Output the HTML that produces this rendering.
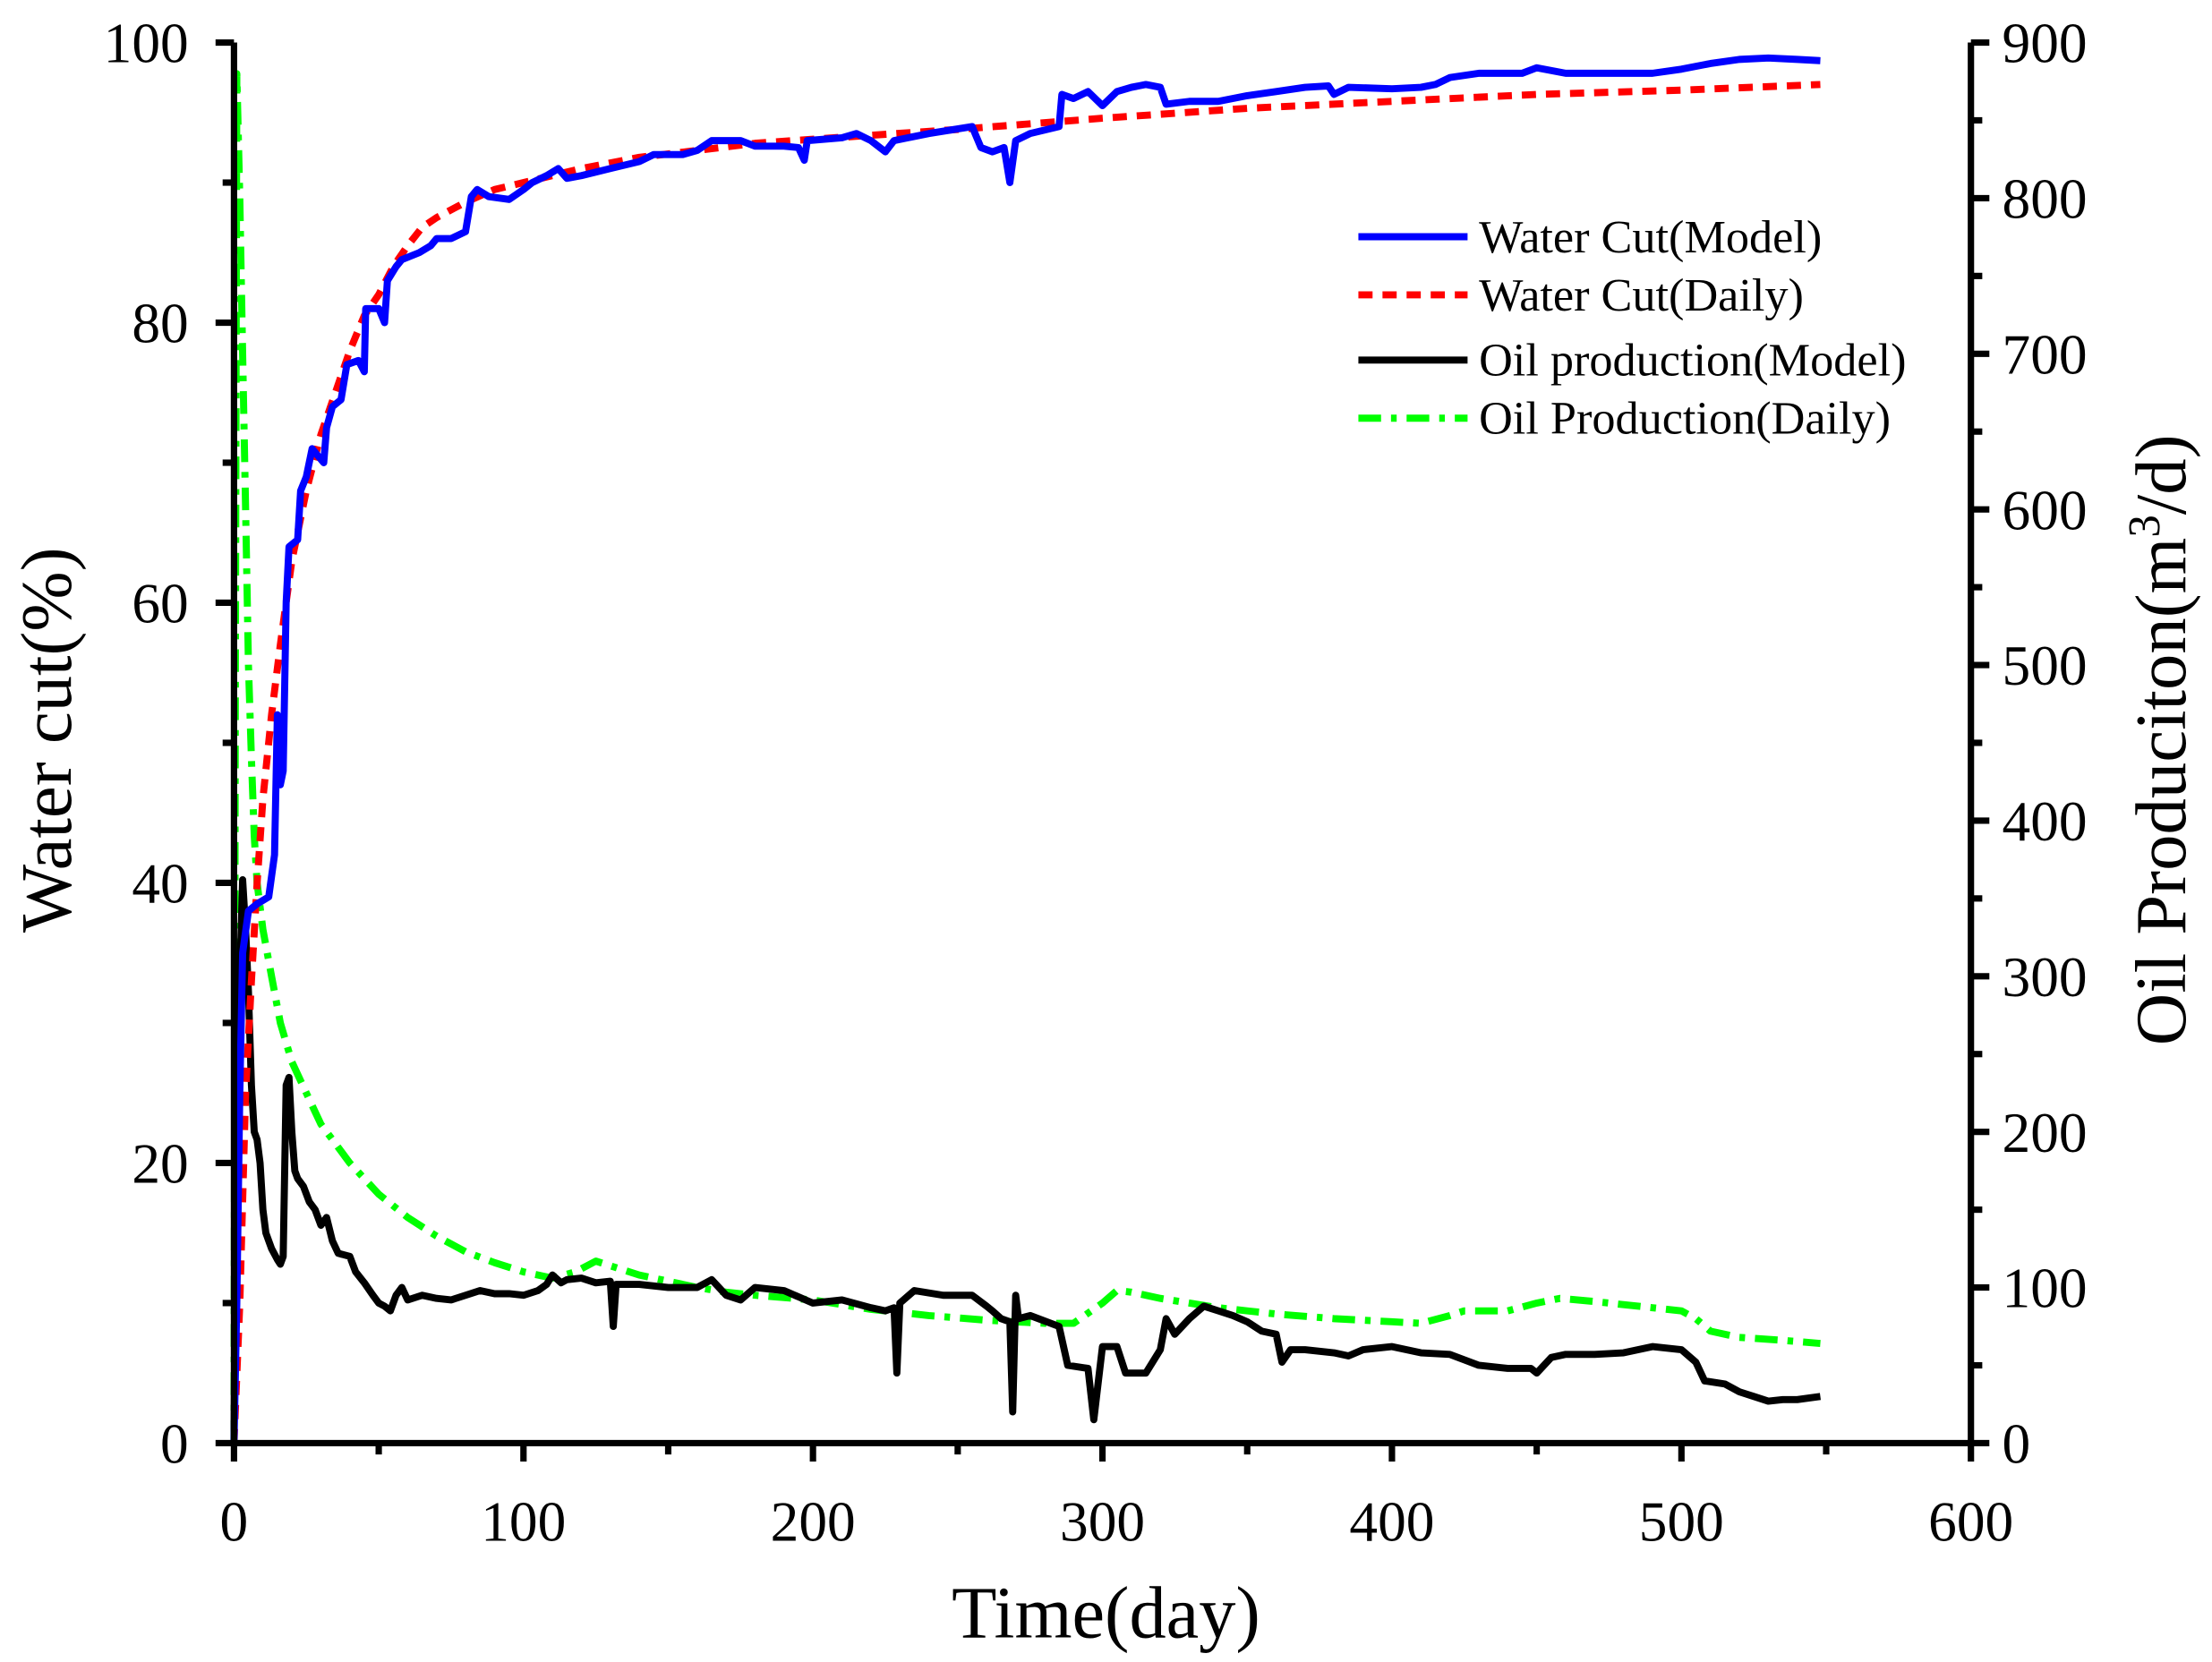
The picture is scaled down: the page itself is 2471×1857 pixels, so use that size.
<!DOCTYPE html>
<html><head><meta charset="utf-8"><style>
html,body{margin:0;padding:0;background:#fff}
svg{display:block}
text{font-family:"Liberation Serif",serif;fill:#000}
</style></head><body>
<svg id="s" width="2471" height="1857" viewBox="0 0 1560 1172.4" xmlns="http://www.w3.org/2000/svg">
<rect width="1560" height="1173" fill="#fff"/>
<g id="plot"></g>
<g id="axes" stroke="#000" stroke-width="4.5" fill="none"></g>
<g id="lab" font-size="40"></g>
<text x="50" y="522" font-size="51" text-anchor="middle" transform="rotate(-90 50 522)">Water cut(%)</text>
<text x="780" y="1155" font-size="52" text-anchor="middle">Time(day)</text>
<text x="1541" y="522" font-size="51" text-anchor="middle" transform="rotate(-90 1541 522)">Oil Produciton(m<tspan font-size="32" dy="-18">3</tspan><tspan dy="18">/d)</tspan></text>
<g font-size="33">
<line x1="958" y1="167" x2="1035" y2="167" stroke="#0000ff" stroke-width="5"/>
<text x="1043" y="178">Water Cut(Model)</text>
<line x1="958" y1="208" x2="1035" y2="208" stroke="#ff0000" stroke-width="5" stroke-dasharray="10,7"/>
<text x="1043" y="219">Water Cut(Daily)</text>
<line x1="958" y1="254" x2="1035" y2="254" stroke="#000" stroke-width="5"/>
<text x="1043" y="265">Oil production(Model)</text>
<line x1="958" y1="295" x2="1035" y2="295" stroke="#00ff00" stroke-width="5" stroke-dasharray="16,7,4,7"/>
<text x="1043" y="306">Oil Production(Daily)</text>
</g>
</svg>
<script>
var X0=165,X1=1390,Y0=1018,Y1=30;
function px(d){return X0+(X1-X0)*d/600}
function pyL(v){return Y0-(Y0-Y1)*v/100}
function pyR(v){return Y0-(Y0-Y1)*v/900}
function path(a,f,col,dash){var p='';for(var i=0;i<a.length;i+=2)p+=(i?'L':'M')+px(a[i]).toFixed(1)+','+f(a[i+1]).toFixed(1);
return '<path d="'+p+'" fill="none" stroke="'+col+'" stroke-width="5" stroke-linejoin="round"'+(dash?' stroke-dasharray="'+dash+'"':'')+'/>'}
var blue=[0,0,1,10,2,25,3,35,5,38,8,38.5,12,39,14,42,15,52,16,47,17,48,18,60,19,64,22,64.5,23,68,25,69,27,71,29,70.5,31,70,32,72.5,34,74,37,74.5,39,77,43,77.3,45,76.5,45.5,81,48,81,50,81,52,80,53,83,56,84,58,84.5,64,85,68,85.5,70,86,75,86,80,86.5,82,89,84,89.5,88,89,95,88.8,100,89.5,103,90,108,90.5,112,91,115,90.3,120,90.5,130,91,140,91.5,145,92,155,92,160,92.3,165,93,175,93,180,92.6,190,92.6,195,92.5,197,91.6,198,93,210,93.2,215,93.5,220,93,225,92.2,228,93,240,93.5,255,94,258,92.5,262,92.2,266,92.5,268,90,270,93,275,93.5,285,94,286,96.3,290,96,295,96.5,300,95.5,305,96.5,310,96.8,315,97,320,96.8,322,95.6,330,95.8,340,95.8,350,96.2,360,96.5,370,96.8,378,96.9,380,96.3,385,96.8,400,96.7,410,96.8,415,97,420,97.5,430,97.8,445,97.8,450,98.2,460,97.8,470,97.8,480,97.8,490,97.8,500,98.1,510,98.5,520,98.8,530,98.9,540,98.8,548,98.7];
var red=[0,0,2,10,4,25,6,33,8,40,10,46,13,52,16,57,20,63,25,68,30,72,35,75,40,78,45,80.5,50,82,55,84,60,85.5,65,86.8,70,87.5,80,88.6,90,89.5,100,90,120,91,140,91.8,160,92.3,180,92.8,200,93.1,250,93.8,300,94.6,350,95.3,400,95.8,450,96.3,500,96.6,548,97];
var black=[0,0,1,250,2,300,3,362,4,330,5,290,6,230,7,200,8,195,9,180,10,150,11,135,13,125,15,118,16,115,17,120,18,230,19,235,20,200,21,175,22,170,24,165,26,155,28,150,30,140,32,145,34,130,36,122,40,120,42,110,45,103,48,95,50,90,52,88,54,85,56,95,58,100,60,92,65,95,70,93,75,92,80,95,85,98,90,96,95,96,100,95,105,98,108,102,110,108,113,103,115,105,120,106,125,103,130,104,131,75,132,102,140,102,150,100,160,100,165,105,170,95,175,92,180,100,190,98,200,90,210,92,220,87,225,85,228,87,229,45,230,90,235,98,245,95,255,95,260,88,262,85,265,80,268,78,269,20,270,95,271,80,275,82,285,75,288,50,295,48,297,15,300,62,305,62,308,45,315,45,320,60,322,80,325,70,330,80,335,88,340,85,345,82,350,78,355,72,360,70,362,52,365,60,370,60,380,58,385,56,390,60,400,62,410,58,420,57,430,50,440,48,448,48,450,45,455,55,460,57,470,57,480,58,490,62,500,60,505,52,508,40,515,38,520,33,525,30,530,27,535,28,540,28,548,30];
var green=[0,0,0.5,500,1,880,2,800,3,700,4,600,5,500,6,440,7,390,8,360,10,330,13,300,16,270,20,245,25,225,30,205,40,180,50,160,60,145,70,133,80,123,90,116,100,110,110,106,118,110,125,117,130,114,140,108,150,104,160,100,170,97,180,95,200,92,220,86,240,82,260,79,280,77,290,77,300,90,305,98,310,97,320,93,330,90,340,87,360,83,380,80,400,78,410,77,420,82,425,85,440,85,450,90,458,93,470,91,490,87,500,85,505,80,510,72,520,68,535,66,548,64];
document.getElementById('plot').innerHTML=path(green,pyR,'#00ff00','16,7,4,7')+path(black,pyR,'#000')+path(red,pyL,'#ff0000','10,7')+path(blue,pyL,'#0000ff');
var a='<path d="M'+X0+','+Y1+'V'+Y0+'H'+X1+'V'+Y1+'"/>',l='';
for(var v=0;v<=100;v+=10){var y=pyL(v),L=v%20?8:13;a+='<line x1="'+X0+'" y1="'+y+'" x2="'+(X0-L)+'" y2="'+y+'"/>';if(v%20==0)l+='<text x="133" y="'+(y+14)+'" text-anchor="end">'+v+'</text>';}
for(var v=0;v<=900;v+=50){var y=pyR(v),L=v%100?8:13;a+='<line x1="'+X1+'" y1="'+y+'" x2="'+(X1+L)+'" y2="'+y+'"/>';if(v%100==0)l+='<text x="1412" y="'+(y+14)+'">'+v+'</text>';}
for(var d=0;d<=600;d+=50){var x=px(d),L=d%100?8:13;a+='<line x1="'+x+'" y1="'+Y0+'" x2="'+x+'" y2="'+(Y0+L)+'"/>';if(d%100==0)l+='<text x="'+x+'" y="1087" text-anchor="middle">'+d+'</text>';}
document.getElementById('axes').innerHTML=a;document.getElementById('lab').innerHTML=l;
</script>
</body></html>
